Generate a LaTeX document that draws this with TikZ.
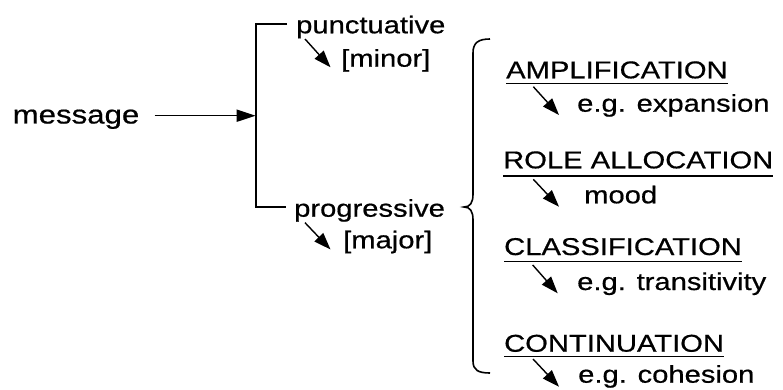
\documentclass[tikz,border=0pt]{standalone}
\usepackage{fontspec}
\setmainfont[FakeStretch=1.2,FakeBold=0.6]{Liberation Sans}
\usetikzlibrary{arrows.meta}
\tikzset{
  lbl/.style={inner sep=0pt, anchor=base west, font=\fontsize{24.3}{28}\selectfont},
  biglbl/.style={lbl, font=\fontsize{26}{30}\selectfont},
  wire/.style={line width=1.6pt},
  mainarrow/.style={wire, -{Triangle[length=19pt,width=12pt]}},
  subarrow/.style={line width=1.4pt, -{Triangle[length=17pt,width=12pt]}},
  uline/.style={line width=1.4pt},
}
\begin{document}
\begin{tikzpicture}[x=1pt, y=-1pt]
\useasboundingbox (0,0) rectangle (783,390);

% left-hand system
\node[biglbl] (message) at (12.5,123.5) {message};
\node[lbl] (punct) at (296,33.3) {punctuative};
\node[lbl] (minor) at (341,66.7) {[minor]};
\node[lbl] (prog) at (294,216.7) {progressive};
\node[lbl] (major) at (343,248.3) {[major]};

\coordinate (fork) at (255.7,115.7);
\coordinate (forktop) at (255.7,24);
\coordinate (forkbot) at (255.7,206.7);

\draw[mainarrow, shorten <=15pt] (message.east |- fork) -- (fork);
\draw[wire] ([xshift=-9pt]punct.west |- forktop) -- (forktop) -- (forkbot) -- ([xshift=-8pt]prog.west |- forkbot);

\draw[subarrow] ([shift={(9,5.7)}]punct.base west) -- ([shift={(-10.5,0.6)}]minor.base west);
\draw[subarrow] ([shift={(11,6)}]prog.base west) -- ([shift={(-12.5,1.2)}]major.base west);

% brace over the progressive options
\draw[wire] (490,39) .. controls (478,39) and (473,43) .. (473,53)
  -- (473,194) .. controls (473,203) and (470,207) .. (464,207)
  .. controls (470,207) and (473,211) .. (473,220)
  -- (473,361) .. controls (473,370) and (478,373) .. (490,373);

% right-hand options
\node[lbl] (amp) at (506,78.3) {AMPLIFICATION};
\node[lbl] (exp) at (577,111.7) {e.g. expansion};
\node[lbl] (role) at (503,168.3) {ROLE ALLOCATION};
\node[lbl] (mood) at (584,203.3) {mood};
\node[lbl] (cls) at (504,255) {CLASSIFICATION};
\node[lbl] (trans) at (577,290) {e.g. transitivity};
\node[lbl] (cont) at (504,351.7) {CONTINUATION};
\node[lbl] (coh) at (578,382.7) {e.g. cohesion};

\draw[uline] ([yshift=-5pt]amp.base west) -- ([yshift=-5pt]amp.base east);
\draw[uline] ([yshift=-7.5pt]role.base west) -- ([yshift=-7.5pt]role.base east);
\draw[uline] ([yshift=-6.5pt]cls.base west) -- ([yshift=-6.5pt]cls.base east);
\draw[uline] ([yshift=-4.5pt]cont.base west) -- ([yshift=-4.5pt]cont.base east);

\draw[subarrow] ([shift={(27.3,8.4)}]amp.base west) -- ([shift={(-18,3.3)}]exp.base west);
\draw[subarrow] ([shift={(30.3,11)}]role.base west) -- ([shift={(-25,3.4)}]mood.base west);
\draw[subarrow] ([shift={(28.7,10)}]cls.base west) -- ([shift={(-19.3,3.3)}]trans.base west);
\draw[subarrow] ([shift={(29,7.3)}]cont.base west) -- ([shift={(-19,4)}]coh.base west);
\end{tikzpicture}
\end{document}
